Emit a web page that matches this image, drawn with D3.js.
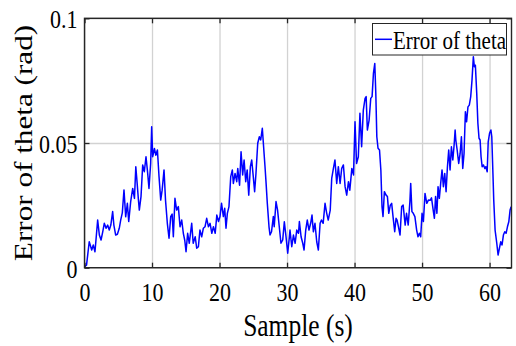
<!DOCTYPE html>
<html>
<head>
<meta charset="utf-8">
<script src="https://cdn.jsdelivr.net/npm/d3@7"></script>
<style>
  body { margin: 0; background: #fff; }
  text { font-family: "Liberation Serif", "Times New Roman", serif; fill: #000; }
</style>
</head>
<body>
<svg class="chart"></svg>
<script>
// sample time (s)
var sampleTimes = [
  0, 0.3, 0.7, 1.07, 1.3, 1.55, 1.95, 2.2, 2.45, 2.7, 2.93, 3.2, 3.43, 3.67, 3.9, 4.17, 4.35, 4.62, 4.87, 5.15,
  5.36, 5.6, 5.85, 6.1, 6.35, 6.55, 6.84, 7.14, 7.4, 7.6, 7.8, 7.97, 8.12, 8.37, 8.62, 8.86, 9.11, 9.36, 9.55, 9.8,
  9.95, 10.1, 10.36, 10.56, 10.8, 11.04, 11.29, 11.5, 11.78, 12.0, 12.27, 12.52, 12.77, 12.98, 13.16, 13.4, 13.65, 13.9, 14.15, 14.4,
  14.64, 14.85, 15.04, 15.28, 15.52, 15.88, 16.1, 16.4, 16.62, 16.87, 17.1, 17.36, 17.6, 17.85, 18.1, 18.36, 18.6, 18.86, 19.1, 19.36,
  19.6, 19.85, 20.07, 20.3, 20.57, 20.77, 20.96, 21.16, 21.4, 21.66, 21.9, 22.05, 22.3, 22.55, 22.7, 22.97, 23.19, 23.43, 23.64, 23.88,
  24.1, 24.33, 24.57, 24.77, 25.0, 25.2, 25.4, 25.66, 25.9, 26.1, 26.34, 26.6, 26.74, 26.9, 27.08, 27.33, 27.48, 27.7, 27.97, 28.1,
  28.37, 28.6, 28.85, 29.1, 29.36, 29.6, 29.85, 30.1, 30.35, 30.44, 30.7, 30.95, 31.2, 31.44, 31.7, 31.83, 32.08, 32.33, 32.52, 32.77,
  33.0, 33.25, 33.5, 33.7, 33.9, 34.14, 34.4, 34.64, 34.9, 35.1, 35.35, 35.63, 35.88, 36.1, 36.4, 36.62, 36.87, 37.1, 37.36, 37.6,
  37.86, 38.1, 38.35, 38.6, 38.84, 39.1, 39.3, 39.6, 39.85, 40.07, 40.3, 40.56, 40.8, 41.05, 41.3, 41.56, 41.72, 41.9, 42.16, 42.4,
  42.6, 42.8, 43.0, 43.15, 43.3, 43.48, 43.7, 43.9, 44.07, 44.22, 44.42, 44.67, 44.87, 45.07, 45.3, 45.5, 45.73, 45.95, 46.15, 46.3,
  46.5, 46.74, 46.98, 47.2, 47.5, 47.7, 47.95, 48.2, 48.32, 48.5, 48.7, 48.94, 49.2, 49.4, 49.6, 49.8, 50.0, 50.2, 50.44, 50.7,
  50.94, 51.2, 51.4, 51.65, 51.83, 52.0, 52.2, 52.37, 52.56, 52.76, 52.96, 53.16, 53.36, 53.56, 53.76, 53.95, 54.15, 54.35, 54.56, 54.75,
  54.9, 55.0, 55.2, 55.43, 55.64, 55.83, 56.03, 56.22, 56.42, 56.6, 56.8, 57.0, 57.21, 57.4, 57.6, 57.75, 57.9, 58.1, 58.27, 58.44,
  58.6, 58.74, 58.9, 59.1, 59.3, 59.45, 59.65, 59.8, 60.0, 60.2, 60.33, 60.5, 60.62, 60.82, 61.07, 61.26, 61.46, 61.66, 61.85, 62.05,
  62.25, 62.45, 62.65, 62.85, 63.04, 63.2
];

// error of theta (rad)
var thetaErrors = [
  0.0004, 0.0010, 0.0104, 0.0071, 0.0091, 0.0064, 0.0191, 0.0131, 0.0111, 0.0144, 0.0178, 0.0158, 0.0171, 0.0151, 0.0171, 0.0225, 0.0171, 0.0131, 0.0134, 0.0158,
  0.0191, 0.0220, 0.0312, 0.0204, 0.0258, 0.0185, 0.0265, 0.0318, 0.0278, 0.0405, 0.0338, 0.0278, 0.0231, 0.0285, 0.0412, 0.0385, 0.0445, 0.0378, 0.0318, 0.0418,
  0.0565, 0.0445, 0.0478, 0.0451, 0.0472, 0.0365, 0.0271, 0.0311, 0.0392, 0.0271, 0.0178, 0.0118, 0.0205, 0.0215, 0.0124, 0.0278, 0.0231, 0.0245, 0.0164, 0.0191,
  0.0138, 0.0110, 0.0064, 0.0138, 0.0098, 0.0178, 0.0098, 0.0124, 0.0078, 0.0084, 0.0151, 0.0124, 0.0158, 0.0164, 0.0198, 0.0164, 0.0178, 0.0138, 0.0164, 0.0138,
  0.0211, 0.0185, 0.0205, 0.0258, 0.0205, 0.0238, 0.0158, 0.0218, 0.0245, 0.0365, 0.0392, 0.0338, 0.0378, 0.0345, 0.0398, 0.0331, 0.0465, 0.0372, 0.0432, 0.0345,
  0.0392, 0.0291, 0.0405, 0.0432, 0.0365, 0.0305, 0.0378, 0.0499, 0.0525, 0.0512, 0.0559, 0.0458, 0.0405, 0.0338, 0.0258, 0.0164, 0.0131, 0.0144, 0.0205, 0.0164,
  0.0265, 0.0231, 0.0164, 0.0098, 0.0111, 0.0184, 0.0124, 0.0058, 0.0124, 0.0151, 0.0084, 0.0131, 0.0098, 0.0151, 0.0138, 0.0185, 0.0124, 0.0098, 0.0071, 0.0151,
  0.0191, 0.0151, 0.0178, 0.0211, 0.0144, 0.0178, 0.0104, 0.0071, 0.0178, 0.0191, 0.0178, 0.0258, 0.0218, 0.0191, 0.0231, 0.0358, 0.0398, 0.0432, 0.0338, 0.0405,
  0.0338, 0.0398, 0.0412, 0.0325, 0.0291, 0.0345, 0.0311, 0.0398, 0.0372, 0.0585, 0.0418, 0.0445, 0.0619, 0.0485, 0.0632, 0.0679, 0.0686, 0.0552, 0.0592, 0.0679,
  0.0686, 0.0779, 0.0819, 0.0699, 0.0525, 0.0479, 0.0472, 0.0391, 0.0245, 0.0205, 0.0305, 0.0291, 0.0285, 0.0218, 0.0251, 0.0258, 0.0198, 0.0144, 0.0198, 0.0191,
  0.0165, 0.0131, 0.0245, 0.0251, 0.0171, 0.0218, 0.0171, 0.0265, 0.0338, 0.0225, 0.0218, 0.0205, 0.0151, 0.0124, 0.0138, 0.0124, 0.0218, 0.0185, 0.0298, 0.0258,
  0.0271, 0.0270, 0.0280, 0.0231, 0.0198, 0.0285, 0.0218, 0.0325, 0.0278, 0.0338, 0.0392, 0.0325, 0.0378, 0.0305, 0.0405, 0.0472, 0.0392, 0.0485, 0.0432, 0.0492,
  0.0552, 0.0512, 0.0472, 0.0418, 0.0458, 0.0525, 0.0398, 0.0458, 0.0625, 0.0585, 0.0645, 0.0652, 0.0686, 0.0752, 0.0846, 0.0806, 0.0812, 0.0699, 0.0579, 0.0519,
  0.0512, 0.0445, 0.0405, 0.0412, 0.0398, 0.0405, 0.0385, 0.0505, 0.0539, 0.0552, 0.0525, 0.0378, 0.0271, 0.0151, 0.0098, 0.0051, 0.0078, 0.0104, 0.0091, 0.0131,
  0.0144, 0.0138, 0.0164, 0.0184, 0.0231, 0.0245
];

var xTicks = [0, 10, 20, 30, 40, 50, 60];
var yTicks = [0, 0.05, 0.1];
var yTickLabels = ["0", "0.05", "0.1"];
var legendLabel = "Error of theta";

var data = sampleTimes.map(function(t, i) { return {t: t, v: thetaErrors[i]}; });

var margin = {top: 18.3, right: 4.5, bottom: 78.3, left: 84.5},
    width = 516 - margin.left - margin.right,
    height = 346 - margin.top - margin.bottom;

var x = d3.scaleLinear().domain([0, 63.25]).range([0, width]);
var y = d3.scaleLinear().domain([0, 0.1]).range([height, 0]);

var svg = d3.select(".chart")
    .attr("width", 516)
    .attr("height", 346);

svg.append("rect").attr("width", 516).attr("height", 346).attr("fill", "#fff");

var chart = svg.append("g")
    .attr("transform", "translate(" + margin.left + "," + margin.top + ")");

// grid
chart.append("g")
    .attr("class", "grid")
    .attr("transform", "translate(0," + height + ")")
    .call(d3.axisBottom(x).tickValues(xTicks).tickSize(-height).tickFormat(""))
    .call(function(g) { g.select(".domain").remove(); });
chart.append("g")
    .attr("class", "grid")
    .call(d3.axisLeft(y).tickValues(yTicks).tickSize(-width).tickFormat(""))
    .call(function(g) { g.select(".domain").remove(); });
chart.selectAll(".grid line")
    .attr("stroke", "#d2d2d2")
    .attr("stroke-width", 1.3);

// data line
var line = d3.line()
    .x(function(d) { return x(d.t); })
    .y(function(d) { return y(d.v); });

chart.append("path")
    .datum(data)
    .attr("fill", "none")
    .attr("stroke", "#0000ff")
    .attr("stroke-width", 1.5)
    .attr("stroke-linejoin", "round")
    .attr("d", line);

// box
chart.append("rect")
    .attr("width", width)
    .attr("height", height)
    .attr("fill", "none")
    .attr("stroke", "#262626")
    .attr("stroke-width", 1.4);

// inward ticks on all four sides
var xAxis = chart.append("g")
    .attr("transform", "translate(0," + height + ")")
    .call(d3.axisBottom(x).tickValues(xTicks).tickSizeInner(-5).tickSizeOuter(0).tickFormat(function(d) { return d; }));
chart.append("g")
    .call(d3.axisTop(x).tickValues(xTicks).tickSizeInner(-5).tickSizeOuter(0).tickFormat(""));
var yAxis = chart.append("g")
    .call(d3.axisLeft(y).tickValues(yTicks).tickSizeInner(-5).tickSizeOuter(0)
      .tickFormat(function(d, i) { return yTickLabels[i]; }));
chart.append("g")
    .attr("transform", "translate(" + width + ",0)")
    .call(d3.axisRight(y).tickValues(yTicks).tickSizeInner(-5).tickSizeOuter(0).tickFormat(""));

chart.selectAll(".domain").remove();
chart.selectAll(".tick line").filter(function() { return this.parentNode.parentNode.getAttribute("class") != "grid"; })
    .attr("stroke", "#262626")
    .attr("stroke-width", 1.3);

// the picture is stretched a bit vertically, so the text is too
xAxis.selectAll("text")
    .attr("y", null).attr("dy", null)
    .attr("font-size", 22)
    .attr("transform", "translate(0,33.8) scale(1,1.18)");
yAxis.selectAll("text")
    .attr("x", null).attr("dy", null)
    .attr("font-size", 22)
    .attr("text-anchor", "end")
    .attr("transform", "translate(-7,9.6) scale(1,1.18)");

svg.append("text")
    .attr("text-anchor", "middle")
    .attr("font-size", 25.5)
    .attr("transform", "translate(" + (margin.left + width / 2) + ",336) scale(1,1.2)")
    .text("Sample (s)");

svg.append("text")
    .attr("text-anchor", "middle")
    .attr("font-size", 26)
    .attr("transform", "translate(32," + (margin.top + height / 2) + ") rotate(-90) scale(1.2,1)")
    .text("Error of theta (rad)");

// legend
var legend = svg.append("g");
legend.append("rect")
    .attr("x", 372.5).attr("y", 23.5)
    .attr("width", 134).attr("height", 31.5)
    .attr("fill", "#fff")
    .attr("stroke", "#262626")
    .attr("stroke-width", 1);
legend.append("line")
    .attr("x1", 375).attr("x2", 392)
    .attr("y1", 39.3).attr("y2", 39.3)
    .attr("stroke", "#0000ff")
    .attr("stroke-width", 1.5);
legend.append("text")
    .attr("font-size", 21)
    .attr("transform", "translate(393,49) scale(1,1.2)")
    .text(legendLabel);
</script>
</body>
</html>
